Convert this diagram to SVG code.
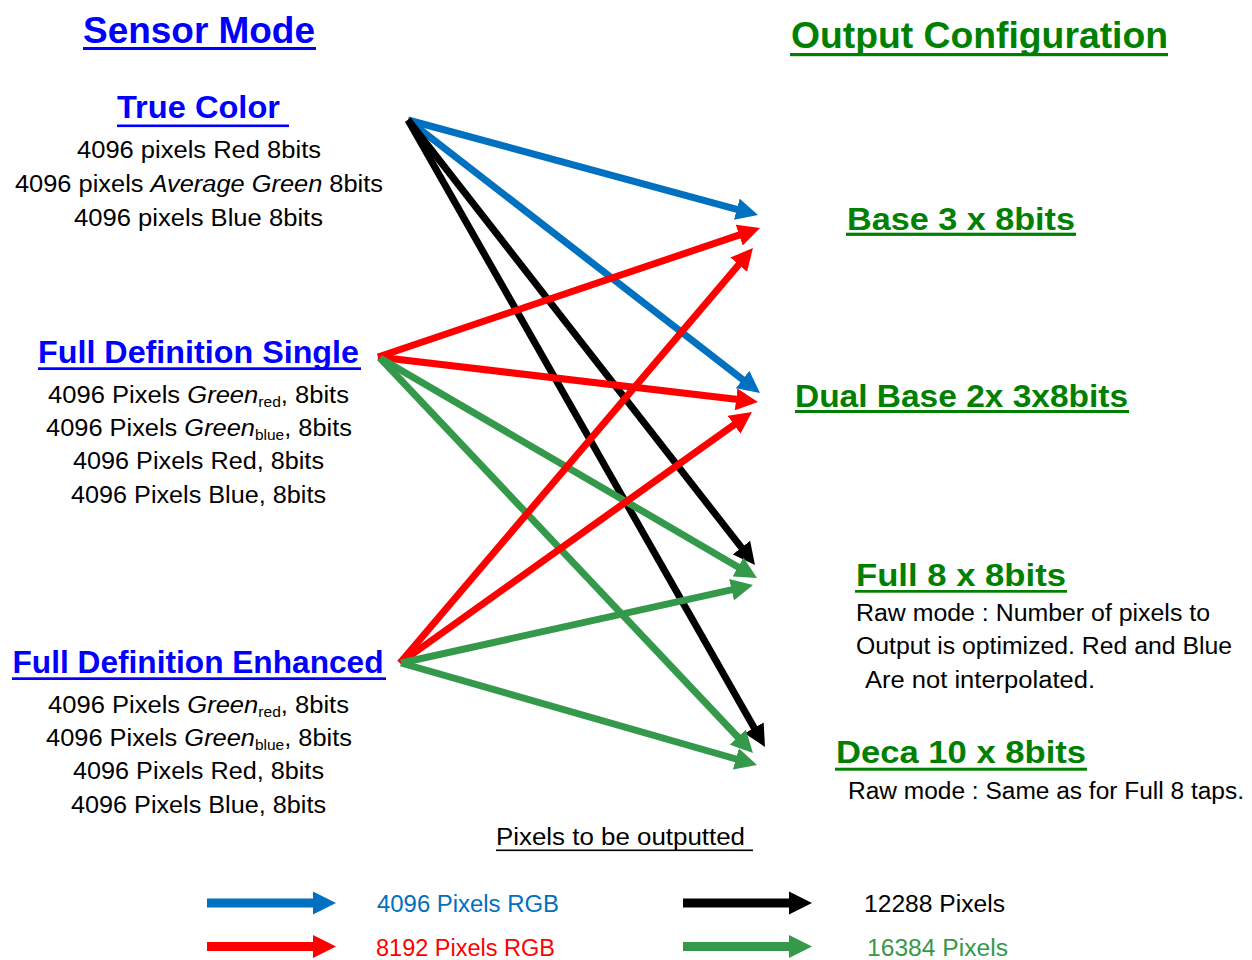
<svg xmlns="http://www.w3.org/2000/svg" width="1252" height="960" viewBox="0 0 1252 960">
  <style>
    text { font-family: "Liberation Sans", Arial, sans-serif; }
    .h1 { font-size: 37px; font-weight: bold; }
    .h2 { font-size: 32px; font-weight: bold; }
    .body { font-size: 23px; fill: #000; }
    .legend { font-size: 23px; }
    .blueT { fill: #0000FF; }
    .greenT { fill: #008000; }
    .ulB { fill: #0000FF; }
    .ulG { fill: #008000; }
    .it { font-style: italic; }
    .sub { font-size: 14px; }
    .conn { fill: none; stroke-width: 7; }
    .cBlue { stroke: #0070C0; }
    .cRed { stroke: #FF0000; }
    .cBlack { stroke: #000000; }
    .cGreen { stroke: #34994A; }
  </style>
  <defs>
    <marker id="headBlue" viewBox="0 0 22 22" refX="2" refY="11" markerWidth="22" markerHeight="22" markerUnits="userSpaceOnUse" orient="auto">
      <path d="M0,0 L22,11 L0,22 z" fill="#0070C0"/>
    </marker>
    <marker id="headRed" viewBox="0 0 22 22" refX="2" refY="11" markerWidth="22" markerHeight="22" markerUnits="userSpaceOnUse" orient="auto">
      <path d="M0,0 L22,11 L0,22 z" fill="#FF0000"/>
    </marker>
    <marker id="headBlack" viewBox="0 0 22 22" refX="2" refY="11" markerWidth="22" markerHeight="22" markerUnits="userSpaceOnUse" orient="auto">
      <path d="M0,0 L22,11 L0,22 z" fill="#000000"/>
    </marker>
    <marker id="headGreen" viewBox="0 0 22 22" refX="2" refY="11" markerWidth="22" markerHeight="22" markerUnits="userSpaceOnUse" orient="auto">
      <path d="M0,0 L22,11 L0,22 z" fill="#34994A"/>
    </marker>
    <!-- block arrow used in the legend -->
    <path id="blockArrow" d="M0,-4.5 L106,-4.5 L106,-11.5 L129,0 L106,11.5 L106,4.5 L0,4.5 z"/>
  </defs>

  <!-- Column titles -->
  <g id="title-sensor-mode">
    <text class="h1 blueT" x="83" y="43" textLength="232" lengthAdjust="spacingAndGlyphs">Sensor Mode</text>
    <rect class="ulB" x="83" y="47" width="233" height="3"/>
  </g>
  <g id="title-output-configuration">
    <text class="h1 greenT" x="791" y="48" textLength="377" lengthAdjust="spacingAndGlyphs">Output Configuration</text>
    <rect class="ulG" x="790" y="53" width="378" height="3.2"/>
  </g>

  <!-- Sensor modes -->
  <g id="mode-true-color">
    <text class="h2 blueT" x="117" y="118" textLength="163" lengthAdjust="spacingAndGlyphs">True Color</text>
    <rect class="ulB" x="117" y="124.5" width="172" height="2.6"/>
    <text class="body" x="77" y="158" textLength="244" lengthAdjust="spacingAndGlyphs">4096 pixels Red 8bits</text>
    <text class="body" x="15" y="192" textLength="368" lengthAdjust="spacingAndGlyphs">4096 pixels <tspan class="it">Average Green</tspan> 8bits</text>
    <text class="body" x="74" y="226" textLength="249" lengthAdjust="spacingAndGlyphs">4096 pixels Blue 8bits</text>
  </g>

  <g id="mode-full-definition-single">
    <text class="h2 blueT" x="38" y="363" textLength="321" lengthAdjust="spacingAndGlyphs">Full Definition Single</text>
    <rect class="ulB" x="38" y="367.3" width="323" height="2.7"/>
    <text class="body" x="48" y="402.5" textLength="301" lengthAdjust="spacingAndGlyphs">4096 Pixels <tspan class="it">Green</tspan><tspan class="sub" dy="4">red</tspan><tspan dy="-4">, 8bits</tspan></text>
    <text class="body" x="46" y="436" textLength="306" lengthAdjust="spacingAndGlyphs">4096 Pixels <tspan class="it">Green</tspan><tspan class="sub" dy="4">blue</tspan><tspan dy="-4">, 8bits</tspan></text>
    <text class="body" x="73" y="468.5" textLength="251" lengthAdjust="spacingAndGlyphs">4096 Pixels Red, 8bits</text>
    <text class="body" x="71" y="502.5" textLength="255" lengthAdjust="spacingAndGlyphs">4096 Pixels Blue, 8bits</text>
  </g>

  <g id="mode-full-definition-enhanced">
    <text class="h2 blueT" x="12.5" y="673" textLength="371" lengthAdjust="spacingAndGlyphs">Full Definition Enhanced</text>
    <rect class="ulB" x="12" y="677.3" width="374" height="2.7"/>
    <text class="body" x="48" y="713" textLength="301" lengthAdjust="spacingAndGlyphs">4096 Pixels <tspan class="it">Green</tspan><tspan class="sub" dy="4">red</tspan><tspan dy="-4">, 8bits</tspan></text>
    <text class="body" x="46" y="746" textLength="306" lengthAdjust="spacingAndGlyphs">4096 Pixels <tspan class="it">Green</tspan><tspan class="sub" dy="4">blue</tspan><tspan dy="-4">, 8bits</tspan></text>
    <text class="body" x="73" y="778.5" textLength="251" lengthAdjust="spacingAndGlyphs">4096 Pixels Red, 8bits</text>
    <text class="body" x="71" y="812.5" textLength="255" lengthAdjust="spacingAndGlyphs">4096 Pixels Blue, 8bits</text>
  </g>

  <!-- Output configurations -->
  <g id="out-base">
    <text class="h2 greenT" x="847" y="230" textLength="228" lengthAdjust="spacingAndGlyphs">Base 3 x 8bits</text>
    <rect class="ulG" x="846" y="232.7" width="230" height="3.2"/>
  </g>
  <g id="out-dual-base">
    <text class="h2 greenT" x="795" y="407" textLength="333" lengthAdjust="spacingAndGlyphs">Dual Base 2x 3x8bits</text>
    <rect class="ulG" x="795" y="410" width="334" height="3"/>
  </g>
  <g id="out-full">
    <text class="h2 greenT" x="856" y="585.5" textLength="210" lengthAdjust="spacingAndGlyphs">Full 8 x 8bits</text>
    <rect class="ulG" x="855" y="590" width="212" height="2.7"/>
    <text class="body" x="856" y="621" textLength="354" lengthAdjust="spacingAndGlyphs">Raw mode : Number of pixels to</text>
    <text class="body" x="856" y="653.5" textLength="376" lengthAdjust="spacingAndGlyphs">Output is optimized. Red and Blue</text>
    <text class="body" x="865" y="687.5" textLength="230" lengthAdjust="spacingAndGlyphs">Are not interpolated.</text>
  </g>
  <g id="out-deca">
    <text class="h2 greenT" x="836" y="762.5" textLength="250" lengthAdjust="spacingAndGlyphs">Deca 10 x 8bits</text>
    <rect class="ulG" x="835" y="767.7" width="252" height="3"/>
    <text class="body" x="848" y="799" textLength="396" lengthAdjust="spacingAndGlyphs">Raw mode : Same as for Full 8 taps.</text>
  </g>

  <!-- Connectors: sensor mode to output configuration -->
  <g id="connectors">
    <!-- True Color -->
    <line class="conn cBlue" x1="408" y1="120" x2="738.7" y2="209.8" marker-end="url(#headBlue)"/>
    <line class="conn cBlue" x1="408" y1="120" x2="744.2" y2="380.7" marker-end="url(#headBlue)"/>
    <line class="conn cBlack" x1="408" y1="120" x2="742.7" y2="549.2" marker-end="url(#headBlack)"/>
    <line class="conn cBlack" x1="408" y1="120" x2="755.1" y2="729.6" marker-end="url(#headBlack)"/>
    <!-- Full Definition Single -->
    <line class="conn cRed" x1="378" y1="357" x2="741.1" y2="234.4" marker-end="url(#headRed)"/>
    <line class="conn cRed" x1="378" y1="357" x2="738.1" y2="399.6" marker-end="url(#headRed)"/>
    <line class="conn cGreen" x1="380" y1="358" x2="739.7" y2="567.9" marker-end="url(#headGreen)"/>
    <line class="conn cGreen" x1="380" y1="358" x2="739.2" y2="738.5" marker-end="url(#headGreen)"/>
    <!-- Full Definition Enhanced -->
    <line class="conn cRed" x1="400" y1="663" x2="740.0" y2="263.2" marker-end="url(#headRed)"/>
    <line class="conn cRed" x1="400" y1="663" x2="735.7" y2="423.6" marker-end="url(#headRed)"/>
    <line class="conn cGreen" x1="401" y1="663" x2="733.5" y2="589.3" marker-end="url(#headGreen)"/>
    <line class="conn cGreen" x1="401" y1="663" x2="737.8" y2="759.5" marker-end="url(#headGreen)"/>
  </g>

  <!-- Legend -->
  <g id="legend">
    <text class="legend" x="496" y="845" textLength="249" lengthAdjust="spacingAndGlyphs">Pixels to be outputted </text>
    <rect x="496" y="849.5" width="257" height="1.6" fill="#000"/>

    <use href="#blockArrow" x="207" y="903" fill="#0070C0"/>
    <text class="legend" x="377" y="912" fill="#0070C0" textLength="182" lengthAdjust="spacingAndGlyphs">4096 Pixels RGB</text>

    <use href="#blockArrow" x="207" y="946.5" fill="#FF0000"/>
    <text class="legend" x="376" y="956" fill="#FF0000" textLength="179" lengthAdjust="spacingAndGlyphs">8192 Pixels RGB</text>

    <use href="#blockArrow" x="683" y="903" fill="#000000"/>
    <text class="legend" x="864" y="912" fill="#000000" textLength="141" lengthAdjust="spacingAndGlyphs">12288 Pixels</text>

    <use href="#blockArrow" x="683" y="946.5" fill="#34994A"/>
    <text class="legend" x="867" y="956" fill="#34994A" textLength="141" lengthAdjust="spacingAndGlyphs">16384 Pixels</text>
  </g>
</svg>
